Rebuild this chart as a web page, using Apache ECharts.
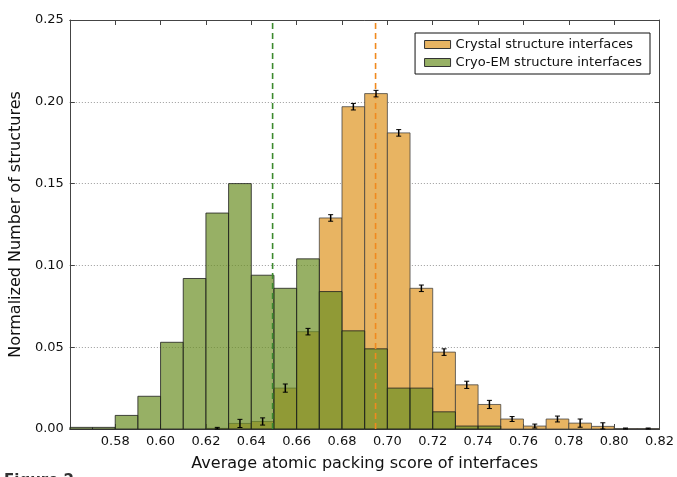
<!DOCTYPE html>
<html>
<head>
<meta charset="utf-8">
<script src="https://cdn.jsdelivr.net/npm/echarts@6/dist/echarts.min.js"></script>
<style>
html,body{margin:0;padding:0;background:#fff;}
#chart{width:677px;height:477px;}
</style>
</head>
<body>
<div id="chart"></div>
<script>
// ---- data ----
var binEdges = [0.56,0.57,0.58,0.59,0.60,0.61,0.62,0.63,0.64,0.65,0.66,0.67,0.68,0.69,0.70,0.71,0.72,0.73,0.74,0.75,0.76,0.77,0.78,0.79,0.80,0.81,0.82];
var crystalValues = [0,0,0,0,0,0,0.0004,0.0034,0.0046,0.025,0.0595,0.129,0.197,0.205,0.181,0.086,0.047,0.027,0.015,0.0061,0.0018,0.0061,0.0036,0.0016,0.0003,0.0003];
var crystalErrors = [null,null,null,null,null,null,0.0006,0.0025,0.0022,0.0025,0.002,0.002,0.002,0.002,0.002,0.002,0.002,0.0022,0.0025,0.0015,0.0012,0.0018,0.0025,0.0022,0.0003,0.0003];
var cryoValues = [0.001,0.001,0.0083,0.020,0.053,0.092,0.132,0.150,0.094,0.086,0.104,0.084,0.060,0.049,0.025,0.025,0.0105,0.0018,0.0018,0,0,0,0,0,0,0];
var crystalMean = 0.6948;
var cryoMean = 0.6494;
var xTicks = [0.56,0.58,0.60,0.62,0.64,0.66,0.68,0.70,0.72,0.74,0.76,0.78,0.80,0.82];
var yTicks = [0.00,0.05,0.10,0.15,0.20,0.25];
var seriesNames = ['Crystal structure interfaces','Cryo-EM structure interfaces'];

// ---- build ----
function histData(vals){
  var out = [];
  for (var i = 0; i < vals.length; i++) out.push([binEdges[i], binEdges[i+1], vals[i]]);
  return out;
}
var errData = [];
for (var i = 0; i < crystalValues.length; i++) {
  if (crystalErrors[i] != null) errData.push([(binEdges[i]+binEdges[i+1])/2, crystalValues[i], crystalErrors[i]]);
}
function barRender(fill, stroke){
  return function(params, api){
    var v = api.value(2);
    if (!(v > 0)) return null;
    var p0 = api.coord([api.value(0), v]);
    var p1 = api.coord([api.value(1), 0]);
    return {
      type: 'rect',
      shape: {x: p0[0], y: p0[1], width: p1[0]-p0[0], height: p1[1]-p0[1]},
      style: {fill: fill, stroke: stroke, lineWidth: 1}
    };
  };
}
var orangeFill = 'rgb(232,180,98)';
var greenFill = 'rgba(107,142,35,0.7)';
var meanColors = ['#f08a1e', '#3c8a2e'];

var chart = echarts.init(document.getElementById('chart'));
var font = 'DejaVu Sans';
chart.setOption({
  animation: false,
  textStyle: {fontFamily: font},
  grid: {left: 66, right: 14, top: 20, bottom: 37, containLabel: false},
  legend: {
    orient: 'vertical', right: 27, top: 33,
    data: seriesNames,
    icon: 'rect', itemWidth: 26, itemHeight: 8, itemGap: 5,
    padding: [5, 8, 5, 9],
    borderColor: '#111', borderWidth: 1, backgroundColor: '#fff',
    itemStyle: {borderColor: '#333', borderWidth: 1},
    textStyle: {fontFamily: font, fontSize: 13, color: '#111'}
  },
  xAxis: [{
    type: 'value', min: 0.56, max: 0.82, interval: 0.02,
    name: 'Average atomic packing score of interfaces', nameLocation: 'middle', nameGap: 27,
    nameTextStyle: {fontFamily: font, fontSize: 16, color: '#111'},
    axisLine: {onZero: false, lineStyle: {color: '#444', width: 1}},
    axisTick: {inside: true, length: 5, lineStyle: {color: '#444'}},
    axisLabel: {fontFamily: font, fontSize: 13, color: '#111', margin: 6,
      formatter: function(v){ return Math.abs(v-0.56) < 1e-6 ? '' : v.toFixed(2); }},
    splitLine: {show: false}
  },{
    type: 'value', position: 'top', min: 0.56, max: 0.82, interval: 0.02,
    axisLine: {onZero: false, lineStyle: {color: '#444', width: 1}},
    axisTick: {inside: true, length: 5, lineStyle: {color: '#444'}},
    axisLabel: {show: false}, splitLine: {show: false}
  }],
  yAxis: [{
    type: 'value', min: 0, max: 0.25, interval: 0.05,
    name: 'Normalized Number of structures', nameLocation: 'middle', nameGap: 38,
    nameTextStyle: {fontFamily: font, fontSize: 16, color: '#111'},
    axisLine: {show: true, onZero: false, lineStyle: {color: '#444', width: 1}},
    axisTick: {show: true, inside: true, length: 5, lineStyle: {color: '#444'}},
    axisLabel: {fontFamily: font, fontSize: 13, color: '#111', margin: 6,
      formatter: function(v){ return v.toFixed(2); }},
    splitLine: {show: true, lineStyle: {color: '#9a9a9a', type: [1, 2], width: 1}}
  },{
    type: 'value', position: 'right', min: 0, max: 0.25, interval: 0.05,
    axisLine: {show: true, onZero: false, lineStyle: {color: '#444', width: 1}},
    axisTick: {show: true, inside: true, length: 5, lineStyle: {color: '#444'}},
    axisLabel: {show: false}, splitLine: {show: false}
  }],
  series: [{
    name: seriesNames[0], type: 'custom', z: 2,
    itemStyle: {color: orangeFill},
    renderItem: barRender(orangeFill, 'rgba(60,60,60,0.75)'),
    encode: {x: [0, 1], y: 2},
    data: histData(crystalValues)
  },{
    name: seriesNames[1], type: 'custom', z: 3,
    itemStyle: {color: greenFill},
    renderItem: barRender(greenFill, 'rgba(30,30,30,0.8)'),
    encode: {x: [0, 1], y: 2},
    data: histData(cryoValues)
  },{
    name: 'means', type: 'custom', z: 4, silent: true,
    renderItem: function(params, api){
      var x = api.value(0);
      var a = api.coord([x, 0]);
      var b = api.coord([x, 0.25]);
      return {type: 'line', shape: {x1: a[0], y1: a[1], x2: b[0], y2: b[1]},
        style: {stroke: meanColors[api.value(1)], lineWidth: 1.6, lineDash: [6, 4]}};
    },
    encode: {x: 0, y: 1},
    data: [[crystalMean, 0], [cryoMean, 1]]
  },{
    name: 'err', type: 'custom', z: 5,
    renderItem: function(params, api){
      var x = api.value(0), y = api.value(1), e = api.value(2);
      var top = api.coord([x, y+e]);
      var bot = api.coord([x, Math.max(0, y-e)]);
      var s = {stroke: '#000', lineWidth: 1.5};
      return {type: 'group', children: [
        {type: 'line', shape: {x1: top[0], y1: top[1], x2: bot[0], y2: bot[1]}, style: s},
        {type: 'line', shape: {x1: top[0]-2.5, y1: top[1], x2: top[0]+2.5, y2: top[1]}, style: {stroke: '#000', lineWidth: 1}},
        {type: 'line', shape: {x1: bot[0]-2.5, y1: bot[1], x2: bot[0]+2.5, y2: bot[1]}, style: {stroke: '#000', lineWidth: 1}}
      ]};
    },
    encode: {x: 0, y: 1},
    data: errData
  }],
  graphic: [{
    type: 'text', left: 4, top: 474,
    style: {text: 'Figure 2', fontFamily: font, fontSize: 15, fontWeight: 'bold', fill: '#333'}
  }]
});
</script>
</body>
</html>
